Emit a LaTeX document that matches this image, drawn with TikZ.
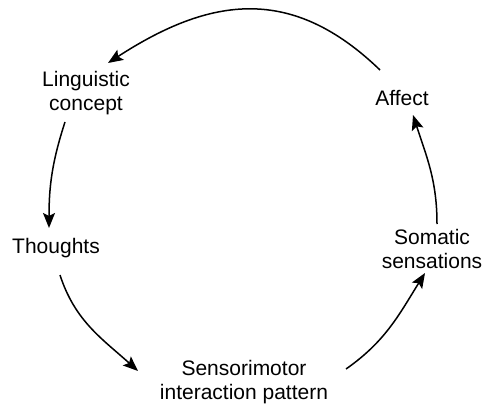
\documentclass[tikz,border=0pt]{standalone}
\usepackage{fontspec}
\setmainfont{Liberation Sans}
\usetikzlibrary{arrows.meta,calc}
\begin{document}
\begin{tikzpicture}[x=1pt,y=1pt,
  label/.style={inner sep=0pt,align=center,font=\fontsize{21}{24}\selectfont},
  flow/.style={line width=1.5pt,-{Stealth[length=15pt,width=12pt,inset=3pt]}}]
\useasboundingbox[fill=white] (0,0) rectangle (489,405);
% stages of the cycle
\node[label] (ling) at (86,312) {Linguistic\\concept};
\node[label] (aff)  at (402,307) {Affect};
\node[label] (th)   at (56,157) {Thoughts};
\node[label] (som)  at (432,156) {Somatic\\sensations};
\node[label] (sen)  at (244,23) {Sensorimotor\\interaction pattern};
% connectors running around the loop
\draw[flow] ($(aff)+(-22,28)$) to[out=136,in=33,looseness=1.15] ($(ling)+(22,30)$);
\draw[flow] ($(ling)+(-21,-29)$) to[out=252,in=90] ($(th)+(-7,20)$);
\draw[flow] ($(th)+(4,-27)$) to[out=-72,in=138] ($(sen)+(-106,11)$);
\draw[flow] ($(sen)+(102,13)$) to[out=35,in=238] ($(som)+(-7,-24)$);
\draw[flow] ($(som)+(5,25)$) to[out=90,in=-72] ($(aff)+(11,-17)$);
\end{tikzpicture}
\end{document}
